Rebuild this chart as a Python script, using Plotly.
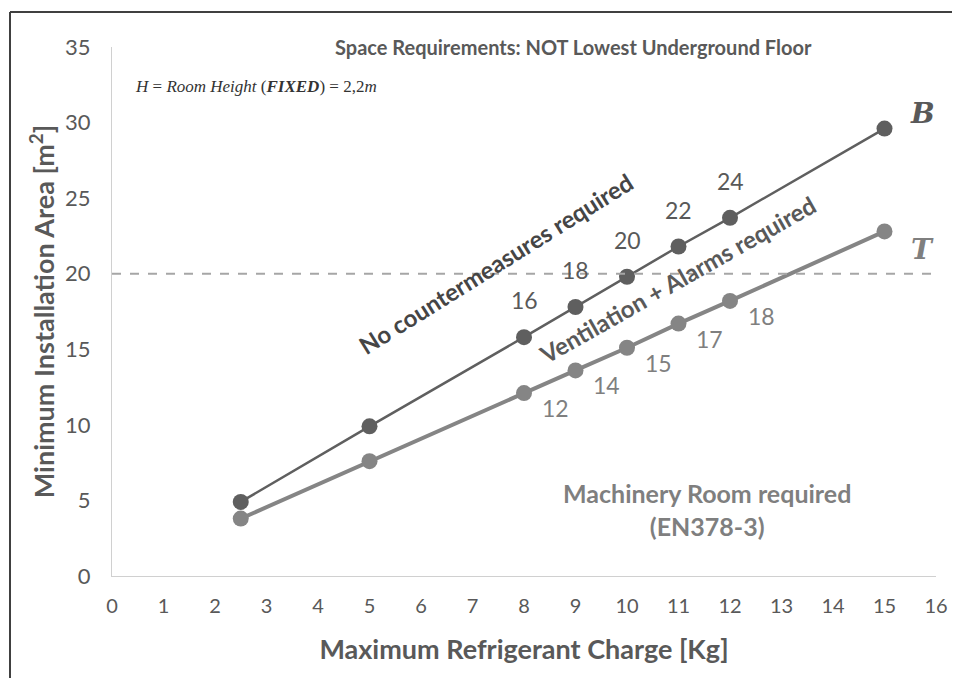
import plotly.graph_objects as go

# ---- data ----
charge_kg = [2.5, 5, 8, 9, 10, 11, 12, 15]
area_B = [4.9, 9.9, 15.8, 17.8, 19.8, 21.8, 23.7, 29.6]
area_T = [3.8, 7.6, 12.1, 13.6, 15.1, 16.7, 18.2, 22.8]
label_x = [8, 9, 10, 11, 12]
labels_B = ["16", "18", "20", "22", "24"]
labels_T = ["12", "14", "15", "17", "18"]
threshold = 20
x_ticks = list(range(0, 17))
y_ticks = [0, 5, 10, 15, 20, 25, 30, 35]

FONT = "Lato, 'Open Sans', sans-serif"
DARK = "#595959"
LIGHT = "#7f7f7f"

fig = go.Figure()

fig.add_trace(go.Scatter(
    x=charge_kg, y=area_B, mode="lines+markers",
    line=dict(color="#5f5f5f", width=2.5),
    marker=dict(color="#5f5f5f", size=16),
    showlegend=False, hoverinfo="skip"))
fig.add_trace(go.Scatter(
    x=charge_kg, y=area_T, mode="lines+markers",
    line=dict(color="#858585", width=4),
    marker=dict(color="#858585", size=16),
    showlegend=False, hoverinfo="skip"))

annotations = []
for xv, lab in zip(label_x, labels_B):
    yv = area_B[charge_kg.index(xv)]
    annotations.append(dict(x=xv, y=yv, text=lab, showarrow=False, yshift=37,
                            font=dict(family=FONT, size=23, color=DARK)))
for xv, lab in zip(label_x, labels_T):
    yv = area_T[charge_kg.index(xv)]
    annotations.append(dict(x=xv, y=yv, text=lab, showarrow=False, xshift=31, yshift=-15,
                            font=dict(family=FONT, size=23, color=LIGHT)))

# end labels
annotations.append(dict(x=charge_kg[-1], y=area_B[-1], text="<b><i>B</i></b>", showarrow=False,
                        xshift=38, yshift=15,
                        font=dict(family="DejaVu Serif, serif", size=28, color=DARK)))
annotations.append(dict(x=charge_kg[-1], y=area_T[-1], text="<b><i>T</i></b>", showarrow=False,
                        xshift=38, yshift=-18,
                        font=dict(family="DejaVu Serif, serif", size=28, color=LIGHT)))

# rotated region labels
annotations.append(dict(x=7.45, y=20.7, text="<b>No countermeasures required</b>", showarrow=False,
                        textangle=-32, font=dict(family=FONT, size=24, color="#454545")))
annotations.append(dict(x=10.98, y=19.6, text="<b>Ventilation + Alarms required</b>", showarrow=False,
                        textangle=-29.5, font=dict(family=FONT, size=24, color=DARK)))
annotations.append(dict(x=11.55, y=4.4, text="<b>Machinery Room required<br>(EN378-3)</b>", showarrow=False,
                        font=dict(family=FONT, size=25, color=LIGHT)))

# title and formula
annotations.append(dict(xref="paper", yref="paper", x=0.56, y=1.0, yanchor="middle",
                        text="<b>Space Requirements: NOT Lowest Underground Floor</b>", showarrow=False,
                        font=dict(family=FONT, size=20, color=DARK)))
annotations.append(dict(x=0.4, y=32.4, xanchor="left",
                        text="<i>H</i> = <i>Room Height</i> (<b><i>FIXED</i></b>) = 2,2<i>m</i>",
                        showarrow=False,
                        font=dict(family="'Liberation Serif', serif", size=17, color="#333333")))

fig.add_shape(type="line", xref="x", yref="y", x0=0, x1=16, y0=threshold, y1=threshold,
              line=dict(color="#a6a6a6", width=2, dash="dash"))

# outer border: left and top edges only (rest lies outside the view)
fig.add_shape(type="line", xref="paper", yref="paper",
              x0=-102/824, x1=-102/824, y0=-0.5, y1=1 + 35/529,
              line=dict(color="#404040", width=2), layer="above")
fig.add_shape(type="line", xref="paper", yref="paper",
              x0=-102/824, x1=1.3, y0=1 + 35/529, y1=1 + 35/529,
              line=dict(color="#404040", width=2), layer="above")

fig.update_layout(
    width=944, height=670,
    margin=dict(l=104, r=16, t=39, b=102),
    plot_bgcolor="white", paper_bgcolor="white",
    annotations=annotations,
    xaxis=dict(range=[0, 16], tickvals=x_ticks, showgrid=False, zeroline=False,
               showline=True, linecolor="#d0d0d0", linewidth=1, ticks="", automargin=False,
               tickfont=dict(family=FONT, size=20, color=DARK), ticklabelstandoff=12,
               title=dict(text="<b>Maximum Refrigerant Charge [Kg]</b>",
                          font=dict(family=FONT, size=27, color=DARK), standoff=24)),
    yaxis=dict(range=[0, 35], tickvals=y_ticks, showgrid=False, zeroline=False,
               showline=True, linecolor="#d0d0d0", linewidth=1, ticks="", automargin=False,
               tickfont=dict(family=FONT, size=22, color=DARK), ticklabelstandoff=16,
               title=dict(text="<b>Minimum Installation Area [m<sup>2</sup>]</b>",
                          font=dict(family=FONT, size=27, color=DARK), standoff=2)),
)

fig.write_html("out.html")
